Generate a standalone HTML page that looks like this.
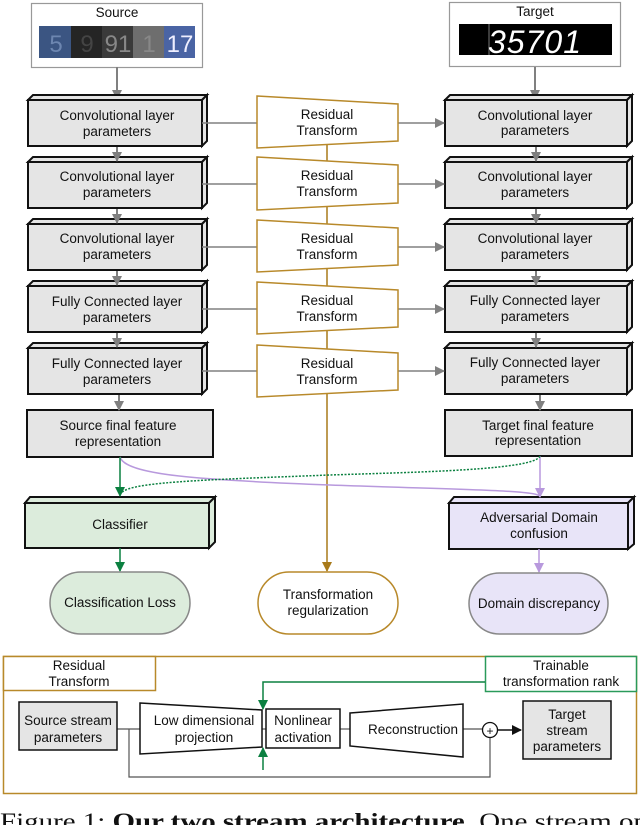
<!DOCTYPE html>
<html><head><meta charset="utf-8"><style>
html,body{margin:0;padding:0;background:#fff;}
svg{display:block;}
text{font-family:"Liberation Sans",sans-serif;font-size:13.5px;fill:#111;text-anchor:middle;}
</style></head><body>
<svg width="640" height="825" viewBox="0 0 640 825" xmlns="http://www.w3.org/2000/svg">
<defs>
<marker id="ag" markerWidth="10" markerHeight="10" refX="9" refY="5" orient="auto" markerUnits="userSpaceOnUse"><path d="M0,0 L10,5 L0,10 z" fill="#808080"/></marker>
<marker id="agr" markerWidth="10" markerHeight="10" refX="9" refY="5" orient="auto" markerUnits="userSpaceOnUse"><path d="M0,0 L10,5 L0,10 z" fill="#0b8040"/></marker>
<marker id="ap" markerWidth="10" markerHeight="10" refX="9" refY="5" orient="auto" markerUnits="userSpaceOnUse"><path d="M0,0 L10,5 L0,10 z" fill="#b899dd"/></marker>
<marker id="ao" markerWidth="10" markerHeight="10" refX="9" refY="5" orient="auto" markerUnits="userSpaceOnUse"><path d="M0,0 L10,5 L0,10 z" fill="#a87a1a"/></marker>
<marker id="ab" markerWidth="10" markerHeight="10" refX="9" refY="5" orient="auto" markerUnits="userSpaceOnUse"><path d="M0,0 L10,5 L0,10 z" fill="#111"/></marker>
</defs>

<!-- Source -->
<rect x="31.5" y="3.5" width="171" height="64" fill="#fff" stroke="#999" stroke-width="1.2"/>
<text x="117" y="17">Source</text>
<rect x="39" y="26" width="32" height="32" fill="#3b5582"/>
<rect x="71" y="26" width="31" height="32" fill="#252525"/>
<rect x="102" y="26" width="31" height="32" fill="#3a3a3a"/>
<rect x="133" y="26" width="31" height="32" fill="#6e6e6e"/>
<rect x="164" y="26" width="31" height="32" fill="#4a64a4"/>
<text x="56" y="52" style="font-size:24px;fill:#6d86b0">5</text>
<text x="87" y="52" style="font-size:24px;fill:#444">9</text>
<text x="118" y="52" style="font-size:24px;fill:#888">91</text>
<text x="149" y="52" style="font-size:24px;fill:#888">1</text>
<text x="180" y="52" style="font-size:24px;fill:#eef">17</text>

<!-- Target -->
<rect x="449.5" y="2.5" width="171" height="64" fill="#fff" stroke="#999" stroke-width="1.2"/>
<text x="535" y="16">Target</text>
<rect x="459" y="24" width="153" height="31" fill="#000"/>
<line x1="489" y1="24" x2="489" y2="55" stroke="#777"/>
<text x="535" y="53" style="font-size:32px;fill:#fff;font-style:italic;letter-spacing:1px">35701</text>

<line x1="117" y1="67" x2="117" y2="99" stroke="#808080" stroke-width="2" marker-end="url(#ag)"/>
<line x1="535" y1="67" x2="535" y2="99" stroke="#808080" stroke-width="2" marker-end="url(#ag)"/>

<g stroke="#111" stroke-width="2" fill="#e5e5e5">
<g id="L1"><polygon points="28,100 33,95 207,95 202,100"/><polygon points="202,100 207,95 207,141 202,146"/><rect x="28" y="100" width="174" height="46"/></g>
<use href="#L1" y="62"/><use href="#L1" y="124"/><use href="#L1" y="186"/><use href="#L1" y="248"/>
<g id="R1"><polygon points="445,100 450,95 632,95 627,100"/><polygon points="627,100 632,95 632,141 627,146"/><rect x="445" y="100" width="182" height="46"/></g>
<use href="#R1" y="62"/><use href="#R1" y="124"/><use href="#R1" y="186"/><use href="#R1" y="248"/>
<rect x="27" y="410" width="186" height="47"/>
<rect x="445" y="410" width="187" height="46"/>
<g fill="#dcecdc"><polygon points="25,503 30,497 215,497 209,503"/><polygon points="209,503 215,497 215,542 209,548"/><rect x="25" y="503" width="184" height="45"/></g>
<g fill="#e8e4f8"><polygon points="449,503 454,497 634,497 628,503"/><polygon points="628,503 634,497 634,544 628,549"/><rect x="449" y="503" width="179" height="46"/></g>
</g>

<g stroke="#808080" stroke-width="2">
<line x1="117" y1="147" x2="117" y2="161" marker-end="url(#ag)"/>
<line x1="117" y1="209" x2="117" y2="223" marker-end="url(#ag)"/>
<line x1="117" y1="271" x2="117" y2="285" marker-end="url(#ag)"/>
<line x1="117" y1="333" x2="117" y2="347" marker-end="url(#ag)"/>
<line x1="119" y1="395" x2="119" y2="410" marker-end="url(#ag)"/>
<line x1="536" y1="147" x2="536" y2="161" marker-end="url(#ag)"/>
<line x1="536" y1="209" x2="536" y2="223" marker-end="url(#ag)"/>
<line x1="536" y1="271" x2="536" y2="285" marker-end="url(#ag)"/>
<line x1="536" y1="333" x2="536" y2="347" marker-end="url(#ag)"/>
<line x1="540" y1="395" x2="540" y2="410" marker-end="url(#ag)"/>
</g>
<g stroke="#808080" stroke-width="1.5">
<line x1="202" y1="123" x2="258" y2="123"/><line x1="398" y1="123" x2="444" y2="123" marker-end="url(#ag)"/>
<line x1="202" y1="184" x2="258" y2="184"/><line x1="398" y1="184" x2="444" y2="184" marker-end="url(#ag)"/>
<line x1="202" y1="247" x2="258" y2="247"/><line x1="398" y1="247" x2="444" y2="247" marker-end="url(#ag)"/>
<line x1="202" y1="309" x2="258" y2="309"/><line x1="398" y1="309" x2="444" y2="309" marker-end="url(#ag)"/>
<line x1="202" y1="371" x2="258" y2="371"/><line x1="398" y1="371" x2="444" y2="371" marker-end="url(#ag)"/>
</g>

<line x1="327" y1="140" x2="327" y2="571" stroke="#a87a1a" stroke-width="1.5" marker-end="url(#ao)"/>
<g stroke="#b8892a" stroke-width="1.5" fill="#fff">
<polygon points="257,96 398,104 398,141 257,148"/>
<polygon points="257,157 398,165 398,203 257,210"/>
<polygon points="257,220 398,228 398,265 257,272"/>
<polygon points="257,282 398,290 398,327 257,334"/>
<polygon points="257,345 398,353 398,390 257,397"/>
</g>

<text x="117" y="120">Convolutional layer</text><text x="117" y="136">parameters</text>
<text x="117" y="181">Convolutional layer</text><text x="117" y="197">parameters</text>
<text x="117" y="243">Convolutional layer</text><text x="117" y="259">parameters</text>
<text x="117" y="306">Fully Connected layer</text><text x="117" y="322">parameters</text>
<text x="117" y="368">Fully Connected layer</text><text x="117" y="384">parameters</text>
<text x="535" y="120">Convolutional layer</text><text x="535" y="135">parameters</text>
<text x="535" y="181">Convolutional layer</text><text x="535" y="197">parameters</text>
<text x="535" y="243">Convolutional layer</text><text x="535" y="259">parameters</text>
<text x="535" y="305">Fully Connected layer</text><text x="535" y="321">parameters</text>
<text x="535" y="367">Fully Connected layer</text><text x="535" y="383">parameters</text>
<text x="327" y="119">Residual</text><text x="327" y="135">Transform</text>
<text x="327" y="180">Residual</text><text x="327" y="196">Transform</text>
<text x="327" y="243">Residual</text><text x="327" y="259">Transform</text>
<text x="327" y="305">Residual</text><text x="327" y="321">Transform</text>
<text x="327" y="368">Residual</text><text x="327" y="384">Transform</text>
<text x="118" y="430">Source final feature</text><text x="118" y="446">representation</text>
<text x="538" y="430">Target final feature</text><text x="538" y="445">representation</text>

<path d="M120,457 C125,475 200,480 330,485 C470,490 540,490 540,497" fill="none" stroke="#b899dd" stroke-width="1.5" marker-end="url(#ap)"/>
<line x1="540" y1="456" x2="540" y2="497" stroke="#b899dd" stroke-width="1.5"/>
<line x1="120" y1="457" x2="120" y2="496" stroke="#0b8040" stroke-width="1.5" marker-end="url(#agr)"/>
<path d="M540,456 C535,470 420,472 330,475 C200,480 125,482 121,494" fill="none" stroke="#0b8040" stroke-width="1.5" stroke-dasharray="2,1.5"/>
<line x1="120" y1="548" x2="120" y2="571" stroke="#0b8040" stroke-width="1.5" marker-end="url(#agr)"/>
<line x1="539" y1="549" x2="539" y2="572" stroke="#b899dd" stroke-width="1.5" marker-end="url(#ap)"/>

<text x="120" y="529">Classifier</text>
<text x="539" y="522">Adversarial Domain</text><text x="539" y="538">confusion</text>

<rect x="50" y="572" width="140" height="62" rx="31" fill="#dcecdc" stroke="#888" stroke-width="1.5"/>
<rect x="258" y="572" width="140" height="62" rx="31" fill="#fff" stroke="#b8892a" stroke-width="1.5"/>
<rect x="469" y="573" width="139" height="61" rx="30.5" fill="#e8e4f8" stroke="#888" stroke-width="1.5"/>
<text x="120" y="607">Classification Loss</text>
<text x="328" y="599">Transformation</text><text x="328" y="615">regularization</text>
<text x="539" y="608">Domain discrepancy</text>

<rect x="3.5" y="656.5" width="633" height="137" fill="#fff" stroke="#b8892a" stroke-width="1.5"/>
<rect x="3.5" y="656.5" width="152" height="34" fill="#fff" stroke="#b8892a" stroke-width="1.5"/>
<rect x="485.5" y="656.5" width="151" height="35" fill="#fff" stroke="#2a9a5a" stroke-width="1.5"/>
<text x="79" y="670">Residual</text><text x="79" y="686">Transform</text>
<text x="561" y="670">Trainable</text><text x="561" y="686">transformation rank</text>

<g stroke="#555" stroke-width="1.2" fill="none">
<line x1="117" y1="729" x2="140" y2="729"/>
<line x1="262" y1="729" x2="266" y2="729"/>
<line x1="340" y1="729" x2="350" y2="729"/>
<line x1="463" y1="729" x2="483" y2="729"/>
<polyline points="129,729 129,777 490,777 490,737"/>
</g>
<line x1="497" y1="730" x2="521" y2="730" stroke="#111" stroke-width="1.5" marker-end="url(#ab)"/>
<rect x="19" y="702" width="98" height="48" fill="#e5e5e5" stroke="#111" stroke-width="1.5"/>
<polygon points="140,703 262,710 262,747 140,754" fill="#fff" stroke="#111" stroke-width="1.5"/>
<rect x="266" y="709" width="74" height="39" fill="#fff" stroke="#111" stroke-width="1.5"/>
<polygon points="350,713 463,704 463,757 350,746" fill="#fff" stroke="#111" stroke-width="1.5"/>
<circle cx="490" cy="730" r="7.5" fill="#fff" stroke="#111" stroke-width="1.3"/>
<text x="490" y="735" style="font-size:12px">+</text>
<rect x="523" y="701" width="88" height="58" fill="#e5e5e5" stroke="#111" stroke-width="1.5"/>
<polyline points="485,682 263,682 263,709" fill="none" stroke="#0b8040" stroke-width="1.5" marker-end="url(#agr)"/>
<line x1="263" y1="770" x2="263" y2="748" stroke="#0b8040" stroke-width="1.5" marker-end="url(#agr)"/>

<text x="68" y="725">Source stream</text><text x="68" y="742">parameters</text>
<text x="204" y="725">Low dimensional</text><text x="204" y="742">projection</text>
<text x="303" y="725">Nonlinear</text><text x="303" y="742">activation</text>
<text x="413" y="734">Reconstruction</text>
<text x="567" y="719">Target</text><text x="567" y="735">stream</text><text x="567" y="751">parameters</text>

<text x="0" y="829" textLength="648" lengthAdjust="spacingAndGlyphs" style="font-family:'Liberation Serif',serif;font-size:23px;text-anchor:start">Figure 1: <tspan font-weight="bold">Our two stream architecture.</tspan> One stream op</text>
</svg>
</body></html>
